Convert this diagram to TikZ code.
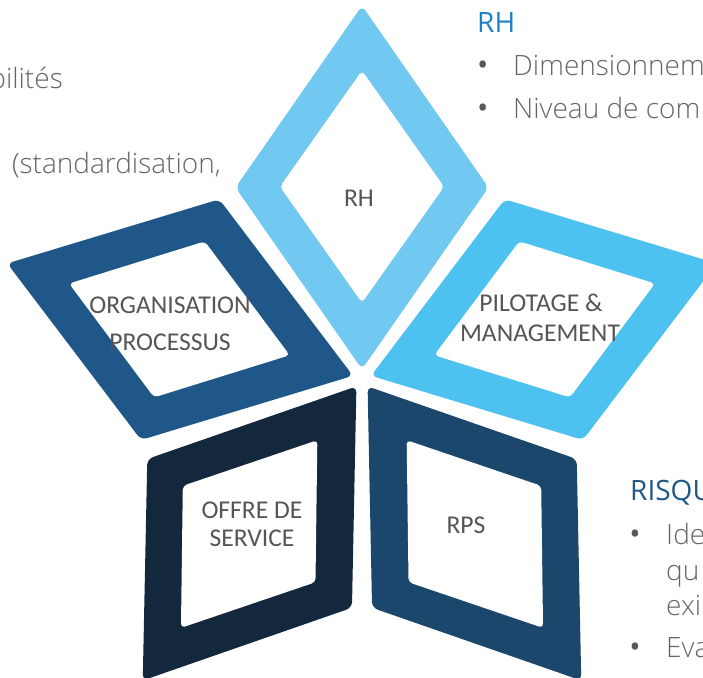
\documentclass[tikz,border=0pt]{standalone}
\usepackage{fontspec}
\setmainfont{Open Sans}
\newfontfamily\labelfont{Carlito}
\newfontfamily\plainfont{Open Sans}
\IfFontExistsTF{Open Sans Light}{\newfontfamily\sidefont{Open Sans Light}}{\newfontfamily\sidefont{Open Sans}}

\definecolor{petalRH}{HTML}{71C9F2}
\definecolor{petalPilot}{HTML}{4DC2F0}
\definecolor{petalOrga}{HTML}{1F5788}
\definecolor{petalOffre}{HTML}{13273D}
\definecolor{petalRPS}{HTML}{1A476B}
\definecolor{titleRH}{HTML}{1B82C6}
\definecolor{titleRisk}{HTML}{1F5788}
\definecolor{labelgray}{HTML}{555555}
\definecolor{sidegray}{HTML}{666666}
\definecolor{bulletgray}{HTML}{575757}

% one rhombus of the star: rotation angle, colour
\newcommand\drawpetal[2]{%
  \begin{scope}[shift={(hub)}, rotate=#1]
    \fill[#2, rounded corners=6pt]
      (63.25,100.35) -- (126.5,191.2) -- (0,373) -- (-126.5,191.2) -- (0,9.5) -- cycle;
    \fill[white, rounded corners=4pt]
      (41,134) -- (82,192) -- (0,308) -- (-82,192) -- (0,76) -- cycle;
  \end{scope}}

\begin{document}
\begin{tikzpicture}[x=1pt,y=1pt,
  petaltext/.style={font=\labelfont\fontsize{25.6}{30}\selectfont, text=labelgray, inner sep=0pt, anchor=base},
  sidetext/.style={font=\sidefont\fontsize{28}{34}\selectfont, text=sidegray, inner sep=0pt, anchor=base west},
  sideright/.style={sidetext, anchor=base east},
  sidetitle/.style={font=\plainfont\fontsize{28}{34}\selectfont, inner sep=0pt, anchor=base west},
  bulletmark/.style={font=\plainfont\fontsize{30}{34}\selectfont, text=bulletgray, inner sep=0pt, anchor=base}]

\path[use as bounding box] (0,0) rectangle (703,-677);
\clip (0,0) rectangle (703,-677);

\coordinate (hub) at (362,-378.7);

% the five rhombi of the star
\drawpetal{0}{petalRH}
\drawpetal{-72}{petalPilot}
\drawpetal{-144}{petalRPS}
\drawpetal{144}{petalOffre}
\drawpetal{72}{petalOrga}

% labels inside the rhombi
\node[petaltext] (lblRH) at (359,-206) {RH};
\node[petaltext] (lblOrgA) at (170,-313) {ORGANISATION};
\node[petaltext] (lblOrgB) at (170,-350) {PROCESSUS};
\node[petaltext] (lblPilA) at (541,-311) {PILOTAGE \&};
\node[petaltext] (lblPilB) at (540,-341) {MANAGEMENT};
\node[petaltext] (lblOffA) at (252,-518) {OFFRE DE};
\node[petaltext] (lblOffB) at (252,-546) {SERVICE};
\node[petaltext] (lblRPS) at (466,-533) {RPS};

% left column
\node[sideright] (leftA) at (63,-88) {bilités};
\node[sideright] (leftB) at (221,-173) {(standardisation,};

% right column, top
\node[sidetitle, text=titleRH] (rhTitle) at (477,-33) {RH};
\node[bulletmark] (rhBulA) at (482.7,-75) {•};
\node[sidetext] (rhItemA) at (513,-75) {Dimensionnem};
\node[bulletmark] (rhBulB) at (482.7,-118) {•};
\node[sidetext] (rhItemB) at (513,-118) {Niveau de com};

% right column, bottom
\node[sidetitle, text=titleRisk] (riskTitle) at (630,-500) {RISQU};
\node[bulletmark] (riskBulA) at (635,-544) {•};
\node[sidetext] (riskItemA) at (666,-544) {Ide};
\node[sidetext] (riskItemB) at (666,-580) {qu};
\node[sidetext] (riskItemC) at (666,-615) {exi};
\node[bulletmark] (riskBulB) at (635,-657) {•};
\node[sidetext] (riskItemD) at (666,-657) {Eva};
\end{tikzpicture}
\end{document}
